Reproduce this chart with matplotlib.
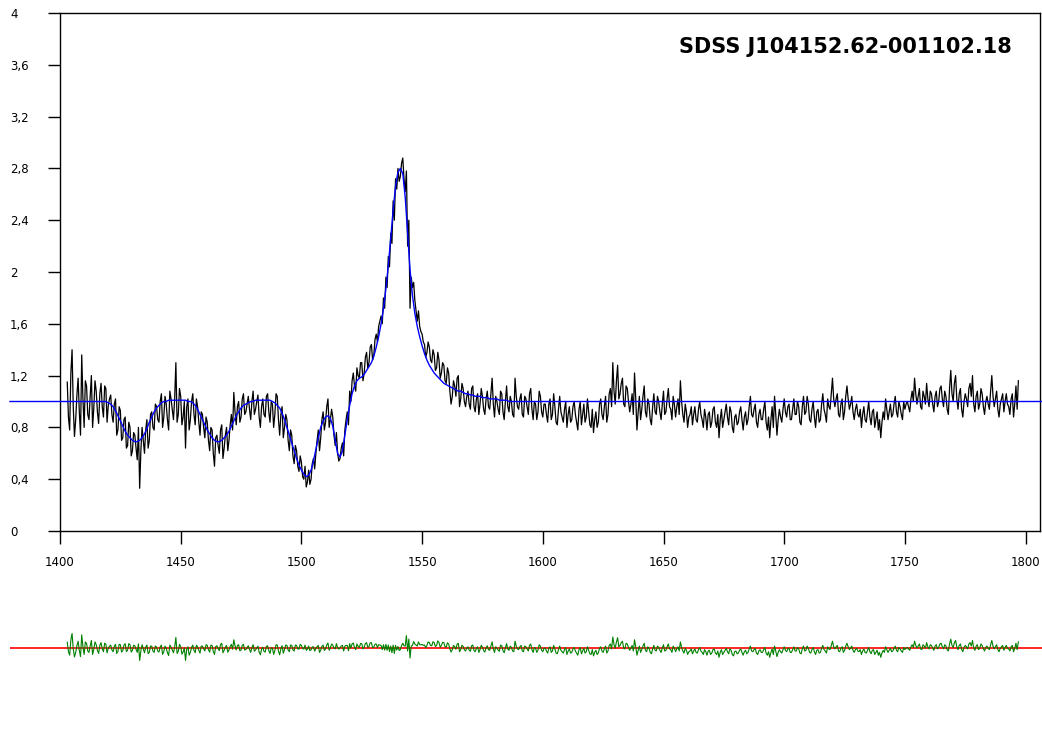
import numpy as np
import matplotlib
matplotlib.use("Agg")
import matplotlib.pyplot as plt
from matplotlib.ticker import FuncFormatter

# ---------------- data ----------------
title = "SDSS J104152.62-001102.18"
wave_start, wave_step = 1403, 1.0

# flux read at whole-Angstrom points 1403..1797
flux = [
    1.15, 0.78, 1.40, 0.73, 1.05, 0.92, 1.36, 0.80,
    1.12, 0.86, 1.20, 0.95, 1.08, 0.83, 1.14, 0.88, 1.10, 0.97,
    1.05, 0.84, 1.02, 0.78, 0.93, 0.72, 0.88, 0.66, 0.80, 0.62,
    0.74, 0.55, 0.33, 0.80, 0.60, 0.86, 0.70, 0.92, 0.78, 0.96,
    0.84, 1.06, 0.88, 0.98, 0.78, 1.02, 0.86, 1.30, 0.90, 1.04,
    0.88, 0.64, 1.02, 0.86, 1.06, 0.82, 0.96, 0.74, 0.90, 0.72,
    0.84, 0.62, 0.78, 0.50, 0.74, 0.60, 0.82, 0.64, 0.80, 0.70,
    0.90, 1.07, 0.82, 1.00, 0.88, 1.06, 0.92, 1.04, 0.86, 1.08,
    0.94, 1.05, 0.80, 1.02, 0.88, 1.06, 0.84, 0.98, 0.90, 1.04,
    0.74, 0.96, 0.80, 0.86, 0.62, 0.74, 0.52, 0.62, 0.46, 0.53,
    0.40, 0.34, 0.47, 0.40, 0.56, 0.60, 0.78, 0.72, 0.92, 0.84,
    1.02, 0.86, 0.88, 0.66, 0.60, 0.56, 0.68, 0.78, 0.92, 1.08,
    1.16, 1.12, 1.26, 1.18, 1.30, 1.22, 1.38, 1.30, 1.44, 1.36,
    1.52, 1.58, 1.66, 1.80, 1.96, 2.12, 2.30, 2.55, 2.72, 2.80,
    2.74, 2.88, 2.62, 2.20, 1.72, 1.88, 1.78, 1.62, 1.58, 1.52,
    1.44, 1.38, 1.42, 1.30, 1.36, 1.26, 1.32, 1.22, 1.28, 1.14,
    1.22, 0.98, 1.16, 1.04, 1.20, 1.02, 1.10, 0.96, 1.08, 0.94,
    1.12, 0.92, 1.06, 0.98, 1.04, 0.90, 1.08, 0.94, 1.18, 0.88,
    1.00, 0.90, 1.06, 0.86, 1.12, 0.92, 1.00, 0.88, 1.04, 0.94,
    1.06, 0.88, 1.02, 0.90, 1.10, 0.86, 0.98, 0.92, 1.04, 0.88,
    0.98, 0.84, 1.02, 0.90, 0.96, 0.82, 1.04, 0.88, 0.94, 0.80,
    0.96, 0.86, 1.00, 0.84, 0.94, 0.82, 0.98, 0.88, 0.92, 0.80,
    0.76, 0.92, 0.84, 1.02, 0.86, 1.04, 0.90, 1.10, 1.30, 0.98,
    1.28, 1.06, 1.18, 0.96, 1.10, 0.92, 1.06, 1.22, 0.78, 1.04,
    0.94, 1.12, 0.88, 0.98, 0.82, 1.06, 0.90, 1.00, 0.86, 1.08,
    0.92, 1.10, 0.94, 1.04, 0.88, 1.02, 1.16, 0.90, 0.98, 0.80,
    0.90, 0.82, 0.96, 0.84, 1.00, 0.86, 0.94, 0.78, 0.92, 0.84,
    0.96, 0.80, 0.72, 0.94, 0.86, 0.98, 0.82, 0.92, 0.76, 0.90,
    0.84, 0.96, 0.78, 0.92, 0.86, 1.04, 0.88, 0.98, 0.80, 0.94,
    0.86, 1.00, 0.78, 0.72, 0.96, 1.04, 0.74, 0.94, 0.84, 1.02,
    0.88, 0.98, 0.86, 1.02, 0.90, 0.96, 0.82, 1.04, 0.92, 0.98,
    0.84, 1.00, 0.80, 0.94, 0.86, 1.06, 0.90, 1.02, 0.94, 1.18,
    0.96, 1.06, 0.88, 1.02, 0.92, 1.12, 0.94, 1.04, 0.86, 0.98,
    0.88, 0.80, 0.96, 0.84, 1.00, 0.82, 0.94, 0.86, 0.78, 0.72,
    0.92, 1.02, 0.86, 0.98, 0.90, 1.04, 0.88, 0.96, 0.86, 0.94,
    1.00, 0.92, 1.08, 1.18, 0.98, 1.10, 0.94, 1.04, 1.14, 0.96,
    1.06, 0.92, 1.08, 1.00, 1.12, 0.96, 1.04, 0.90, 1.24, 1.00,
    1.20, 0.94, 1.10, 0.88, 1.06, 0.96, 1.14, 1.20, 0.92, 1.08,
    0.98, 1.06, 0.90, 1.04, 0.94, 1.20, 0.96, 1.08, 0.88, 1.02,
    0.92, 1.06, 0.96, 1.02, 0.88, 1.12, 1.16,
]

# flux read at half-Angstrom points 1403.5..1796.5
flux_half = [
    0.88, 1.22, 0.95, 0.86, 1.18, 0.74, 1.02, 1.16,
    0.90, 1.04, 0.80, 1.16, 0.92, 1.06, 0.96, 1.12, 0.84, 1.02,
    0.90, 0.98, 0.74, 0.96, 0.70, 0.86, 0.64, 0.84, 0.58, 0.76,
    0.64, 0.80, 0.62, 0.70, 0.78, 0.64, 0.90, 0.80, 0.98, 0.86,
    1.00, 0.80, 1.04, 0.86, 1.08, 0.94, 1.02, 0.84, 1.10, 0.82,
    1.00, 0.96, 0.78, 1.00, 0.90, 1.02, 0.84, 0.92, 0.80, 0.88,
    0.70, 0.80, 0.60, 0.72, 0.66, 0.78, 0.56, 0.74, 0.62, 0.82,
    0.78, 0.92, 0.96, 0.84, 1.02, 0.90, 0.98, 0.94, 1.00, 0.90,
    1.00, 0.88, 0.96, 0.90, 1.04, 0.92, 1.00, 0.80, 1.06, 0.86,
    0.90, 0.72, 0.90, 0.70, 0.78, 0.58, 0.66, 0.50, 0.58, 0.42,
    0.50, 0.38, 0.36, 0.52, 0.48, 0.70, 0.62, 0.86, 0.78, 0.96,
    0.80, 0.94, 0.74, 0.76, 0.54, 0.64, 0.58, 0.86, 0.82, 1.00,
    1.22, 1.08, 1.20, 1.30, 1.16, 1.34, 1.26, 1.42, 1.32, 1.48,
    1.46, 1.62, 1.60, 1.72, 1.88, 2.04, 2.22, 2.40, 2.64, 2.70,
    2.84, 2.72, 2.78, 2.40, 1.96, 1.92, 1.70, 1.70, 1.54, 1.46,
    1.34, 1.46, 1.32, 1.40, 1.24, 1.38, 1.18, 1.30, 1.16, 1.26,
    1.08, 1.04, 1.12, 1.18, 0.96, 1.14, 1.00, 1.04, 0.98, 1.10,
    0.96, 1.02, 0.90, 1.10, 0.94, 1.02, 0.96, 1.06, 0.98, 1.04,
    0.94, 1.08, 0.92, 1.00, 0.96, 1.04, 0.90, 1.18, 0.96, 1.02,
    0.90, 1.04, 0.96, 1.06, 0.94, 1.00, 0.86, 1.08, 0.92, 0.98,
    0.90, 0.98, 0.86, 1.06, 0.84, 0.94, 0.92, 0.84, 1.00, 0.90,
    0.84, 0.96, 0.90, 0.78, 1.00, 0.90, 0.84, 1.02, 0.82, 0.94,
    0.86, 0.80, 0.98, 0.90, 0.96, 0.84, 1.06, 0.96, 1.08, 1.16,
    1.02, 1.14, 0.98, 1.12, 1.00, 0.98, 0.90, 1.02, 0.92, 0.86,
    1.04, 0.92, 1.02, 0.86, 0.96, 0.92, 1.04, 0.92, 0.98, 0.90,
    1.02, 0.96, 0.86, 0.98, 0.96, 0.90, 1.00, 0.84, 0.92, 0.88,
    0.96, 0.90, 0.86, 0.94, 0.90, 0.80, 0.88, 0.90, 0.80, 0.94,
    0.84, 0.90, 0.86, 0.80, 0.92, 0.88, 0.96, 0.80, 0.88, 0.82,
    0.92, 0.86, 0.88, 0.82, 0.96, 0.90, 0.94, 0.84, 0.90, 0.86,
    0.94, 0.84, 0.88, 0.86, 0.80, 0.90, 0.86, 0.88, 0.94, 0.92,
    0.96, 0.86, 0.94, 0.90, 1.00, 0.84, 0.96, 0.90, 1.04, 0.86,
    0.94, 0.88, 0.92, 0.84, 0.98, 0.94, 0.84, 0.96, 1.06, 1.02,
    1.02, 0.90, 0.98, 0.86, 1.04, 1.02, 0.98, 0.92, 0.94, 0.90,
    0.94, 0.90, 0.86, 0.92, 0.88, 0.92, 0.80, 0.92, 0.86, 0.84,
    0.86, 0.94, 0.92, 0.88, 0.98, 0.92, 1.00, 0.90, 1.00, 0.98,
    0.96, 1.02, 1.00, 1.06, 1.04, 0.96, 1.08, 0.98, 1.02, 1.08,
    0.98, 1.04, 0.96, 1.10, 1.02, 1.08, 0.94, 1.10, 1.06, 1.14,
    1.02, 1.06, 0.94, 1.00, 1.02, 1.10, 1.04, 0.98, 1.04, 0.94,
    1.10, 0.96, 1.00, 0.98, 1.08, 1.04, 1.02, 0.94, 0.98, 1.06,
    1.00, 0.98, 0.90, 1.06, 0.98, 0.94,
]

continuum = 1.0
profile_start = 1418
model_profile = [
    1.00, 1.00, 0.99, 0.98, 0.96, 0.93, 0.89, 0.85, 0.81, 0.77,
    0.74, 0.72, 0.70, 0.69, 0.69, 0.70, 0.72, 0.75, 0.79, 0.84,
    0.88, 0.92, 0.95, 0.97, 0.99, 1.00, 1.00, 1.01, 1.01, 1.01,
    1.01, 1.01, 1.01, 1.01, 1.01, 1.00, 1.00, 0.99, 0.97, 0.94,
    0.90, 0.86, 0.82, 0.78, 0.75, 0.72, 0.70, 0.69, 0.69, 0.70,
    0.72, 0.74, 0.77, 0.81, 0.85, 0.89, 0.92, 0.95, 0.97, 0.98,
    0.99, 1.00, 1.00, 1.01, 1.01, 1.01, 1.01, 1.01, 1.01, 1.01,
    1.00, 0.99, 0.97, 0.95, 0.91, 0.86, 0.80, 0.74, 0.68, 0.62,
    0.56, 0.51, 0.47, 0.44, 0.42, 0.43, 0.47, 0.54, 0.63, 0.72,
    0.80, 0.85, 0.88, 0.89, 0.87, 0.81, 0.70, 0.60, 0.57, 0.62,
    0.74, 0.86, 0.97, 1.06, 1.12, 1.16, 1.18, 1.19, 1.21, 1.24,
    1.27, 1.30, 1.35, 1.42, 1.50, 1.60, 1.72, 1.87, 2.05, 2.26,
    2.48, 2.66, 2.77, 2.80, 2.76, 2.58, 2.30, 2.02, 1.82, 1.68,
    1.58, 1.50, 1.43, 1.37, 1.32, 1.28, 1.25, 1.22, 1.20, 1.18,
    1.16, 1.14, 1.13, 1.12, 1.11, 1.10, 1.09, 1.08, 1.08, 1.07,
    1.06, 1.06, 1.05, 1.05, 1.04, 1.04, 1.04, 1.03, 1.03, 1.03,
    1.02, 1.02, 1.02, 1.02, 1.01, 1.01, 1.01, 1.01,
]

xticks = [1400, 1450, 1500, 1550, 1600, 1650, 1700, 1750, 1800]
yticks = [0, 0.4, 0.8, 1.2, 1.6, 2.0, 2.4, 2.8, 3.2, 3.6, 4.0]

# ---------------- derived ----------------
flux = np.array(flux)
flux_half = np.array(flux_half)
wave = wave_start + wave_step * np.arange(len(flux))
wave_h = wave_start + wave_step * (np.arange(len(flux_half)) + 0.5)

# interleave whole and half points into one spectrum
all_wave = np.concatenate([wave, wave_h])
all_flux = np.concatenate([flux, flux_half])
order = np.argsort(all_wave)
spec_wave = all_wave[order]
spec_flux = all_flux[order]

model = np.full(len(flux), continuum)
i0 = int(round((profile_start - wave_start) / wave_step))
model[i0:i0 + len(model_profile)] = model_profile
model_on_spec = np.interp(spec_wave, wave, model)
resid = spec_flux - model_on_spec

# ---------------- layout ----------------
W, H = 1042, 747
fig = plt.figure(figsize=(W / 100, H / 100), dpi=100)
fig.patch.set_facecolor("white")

px_per_unit = 120.7 / 50.0
ax_left_px, ax_right_px = 60, 1040
ax_top_px, ax_bot_px = 13, 531
ax = fig.add_axes([ax_left_px / W, 1 - ax_bot_px / H,
                   (ax_right_px - ax_left_px) / W, (ax_bot_px - ax_top_px) / H])
x0 = 1400.0
x1 = x0 + (ax_right_px - ax_left_px) / px_per_unit
ax.set_xlim(x0, x1)
ax.set_ylim(0, 4)

# residual panel (same x scale, wider)
rb_left_px, rb_right_px = 10, 1042
rb_top_px, rb_bot_px = 560, 735
axr = fig.add_axes([rb_left_px / W, 1 - rb_bot_px / H,
                    (rb_right_px - rb_left_px) / W, (rb_bot_px - rb_top_px) / H])
rx0 = x0 - (ax_left_px - rb_left_px) / px_per_unit
rx1 = rx0 + (rb_right_px - rb_left_px) / px_per_unit
axr.set_xlim(rx0, rx1)
axr.set_ylim(-2.5, 2.5)
axr.axis("off")

# main plot
ax.plot(spec_wave, spec_flux, color="black", lw=0.9, zorder=2)
mx = np.concatenate([[rx0], wave, [rx1]])
my = np.concatenate([[continuum], model, [continuum]])
ax.plot(mx, my, color="#0000ff", lw=1.0, zorder=3, clip_on=False)

ax.set_xticks(xticks)
ax.set_yticks(yticks)
ax.yaxis.set_major_formatter(FuncFormatter(lambda v, p: ("%g" % round(v, 2)).replace(".", ",")))
ax.xaxis.set_major_formatter(FuncFormatter(lambda v, p: "%d" % v))
ax.tick_params(axis="both", direction="out", length=9, width=1.0, color="black",
               labelsize=8.5, labelcolor="black")
ax.tick_params(axis="x", pad=9)
ax.tick_params(axis="y", pad=27)
for lab in ax.get_yticklabels():
    lab.set_horizontalalignment("left")
for s in ax.spines.values():
    s.set_linewidth(1.0)
    s.set_color("black")

ax.text((1012 - ax_left_px) / (ax_right_px - ax_left_px),
        (ax_bot_px - 47) / (ax_bot_px - ax_top_px),
        title, transform=ax.transAxes, ha="right", va="center",
        fontsize=15, fontweight="bold", family="DejaVu Sans")

# residual panel
axr.axhline(0, color="#ff0000", lw=1.2, zorder=1)
axr.plot(spec_wave, resid, color="#008000", lw=0.8, zorder=2)

fig.savefig("out.png", dpi=100, facecolor="white")
